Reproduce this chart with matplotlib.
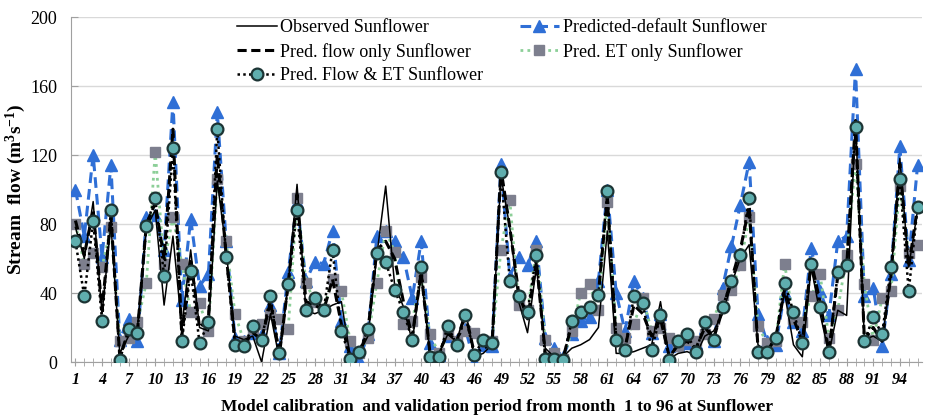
import numpy as np
import matplotlib
matplotlib.use("Agg")
import matplotlib.pyplot as plt
from matplotlib.ticker import FixedLocator

# months 1..96
months = np.arange(1, 97)

observed = [78, 60, 93, 28, 80, 5, 15, 20, 78, 88, 33, 73, 20, 65, 20, 18, 105, 65, 15, 13,
            15, 0, 28, 2, 45, 103, 30, 28, 30, 33, 35, 3, 5, 15, 62, 102, 45, 32, 12, 50,
            5, 5, 16, 12, 30, 3, 5, 10, 108, 78, 35, 17, 55, 8, 3, 3, 8, 10, 13, 20,
            76, 5, 5, 6, 8, 10, 35, 2, 5, 6, 4, 15, 18, 28, 45, 60, 68, 10, 6, 15,
            40, 10, 3, 55, 28, 5, 30, 27, 140, 13, 15, 12, 50, 118, 55, 88]

pred_default = [100, 73, 120, 61, 114, 13, 25, 12, 84, 85, 65, 151, 36, 83, 44, 51, 145, 70, 14, 12,
                17, 16, 33, 5, 52, 93, 47, 58, 57, 76, 24, 9, 1, 16, 73, 76, 70, 61, 37, 70,
                11, 4, 15, 13, 19, 0, 10, 9, 115, 50, 61, 56, 70, 14, 8, 3, 16, 24, 26, 47,
                100, 40, 18, 47, 37, 17, 28, 9, 10, 11, 11, 20, 12, 43, 67, 91, 116, 28, 12, 10,
                40, 23, 18, 66, 41, 27, 70, 73, 170, 38, 43, 9, 51, 125, 59, 114]

pred_flow_only = [82, 62, 88, 30, 85, 3, 18, 18, 80, 92, 60, 135, 15, 60, 20, 25, 120, 62, 12, 10,
                  17, 13, 35, 4, 45, 97, 35, 33, 30, 48, 22, 3, 5, 18, 65, 70, 60, 35, 15, 52,
                  5, 5, 17, 12, 28, 5, 8, 10, 112, 78, 40, 25, 58, 5, 3, 2, 22, 28, 30, 40,
                  95, 12, 8, 33, 28, 15, 25, 3, 10, 12, 8, 20, 14, 30, 48, 65, 90, 8, 6, 14,
                  42, 25, 12, 58, 35, 6, 50, 55, 140, 13, 20, 12, 50, 115, 55, 90]

pred_et_only = [80, 57, 63, 55, 78, 12, 14, 23, 46, 122, 57, 84, 57, 29, 34, 18, 106, 70, 28, 12,
                19, 22, 28, 25, 19, 95, 46, 35, 31, 48, 41, 12, 5, 14, 46, 76, 64, 22, 24, 49,
                16, 5, 16, 12, 18, 17, 12, 12, 65, 94, 33, 30, 65, 13, 5, 2, 18, 40, 45, 30,
                93, 20, 14, 22, 37, 18, 20, 14, 9, 13, 12, 16, 25, 39, 42, 56, 84, 21, 11, 12,
                57, 25, 23, 38, 51, 14, 30, 62, 115, 45, 13, 37, 41, 102, 63, 68]

pred_flow_et = [70, 38, 82, 24, 88, 1, 19, 17, 79, 95, 50, 124, 12, 53, 11, 23, 135, 61, 10, 9,
                21, 13, 38, 5, 45, 88, 30, 37, 30, 65, 18, 2, 6, 19, 63, 58, 42, 29, 13, 55,
                3, 3, 21, 10, 27, 4, 13, 11, 110, 47, 38, 29, 62, 2, 2, 1, 24, 29, 32, 39,
                99, 13, 7, 38, 34, 7, 27, 1, 12, 16, 6, 23, 13, 32, 47, 62, 95, 6, 6, 14,
                46, 29, 11, 57, 32, 6, 52, 56, 136, 12, 26, 16, 55, 106, 41, 90]

tick_months = list(range(1, 97, 3))

plt.rcParams['font.family'] = ['Liberation Serif', 'DejaVu Serif']
plt.rcParams['mathtext.fontset'] = 'custom'
plt.rcParams['mathtext.rm'] = 'Liberation Serif'
plt.rcParams['mathtext.bf'] = 'Liberation Serif:bold'

fig = plt.figure(figsize=(9.27, 4.15), dpi=100)
ax = fig.add_axes([0.0766, 0.1277, 0.918, 0.8313])

blue = "#2F6FD6"

h_def, = ax.plot(months, pred_default, color=blue, ls=(0, (3.5, 2)), lw=2.2,
                 marker="^", ms=9, mfc=blue, mec=blue, label="Predicted-default Sunflower", zorder=3)
h_et, = ax.plot(months, pred_et_only, color="#8CCF98", ls=(0, (1, 1.5)), lw=2.0,
                marker="s", ms=6.5, mfc="#7D7F8E", mec="#7D7F8E", label="Pred. ET only Sunflower", zorder=4)
h_obs, = ax.plot(months, observed, color="black", ls="-", lw=1.1,
                 label="Observed Sunflower", zorder=5)
h_flow, = ax.plot(months, pred_flow_only, color="black", ls=(0, (3, 1.5)), lw=2.2,
                  label="Pred. flow only Sunflower", zorder=6)
h_fet, = ax.plot(months, pred_flow_et, color="black", ls=(0, (1, 1.3)), lw=1.8,
                 marker="o", ms=8.5, mfc="#5FAEAE", mec="#1C3434", mew=1.6,
                 label="Pred. Flow & ET Sunflower", zorder=7)

ax.set_xlim(0.5, 96.5)
ax.set_ylim(0, 200)
ax.set_yticks(range(0, 201, 40))
ax.set_xticks(tick_months)
ax.xaxis.set_minor_locator(FixedLocator(list(months)))
ax.set_xticklabels([str(m) for m in tick_months], fontstyle="italic", fontweight="bold")
ax.tick_params(axis="x", which="both", direction="inout", length=6, color="#A0A0A0", labelsize=11.5, pad=4)
ax.tick_params(axis="y", which="both", length=5, direction="in", color="#A0A0A0", labelsize=13, pad=10)

ax.grid(axis="y", color="#D9D9D9", lw=1)
ax.set_axisbelow(True)
for s in ["top", "right"]:
    ax.spines[s].set_visible(False)
ax.spines["left"].set_color("#A0A0A0")
ax.spines["bottom"].set_color("#A0A0A0")

ax.set_ylabel(r"Stream  flow (m$\mathbf{^{3}}$s$\mathbf{^{-1}}$)", fontweight="bold", fontsize=14)
ax.yaxis.set_label_coords(-0.051, 0.5)
ax.set_xlabel("Model calibration  and validation period from month  1 to 96 at Sunflower",
              fontweight="bold", fontsize=12.5, labelpad=8)

leg = ax.legend(handles=[h_obs, h_flow, h_fet, h_def, h_et], ncol=2, frameon=False,
                loc="upper left", bbox_to_anchor=(0.176, 1.04), fontsize=13,
                handlelength=2.2, handletextpad=0.2, columnspacing=2.0, labelspacing=0.35)

plt.savefig("out.png", dpi=100)
